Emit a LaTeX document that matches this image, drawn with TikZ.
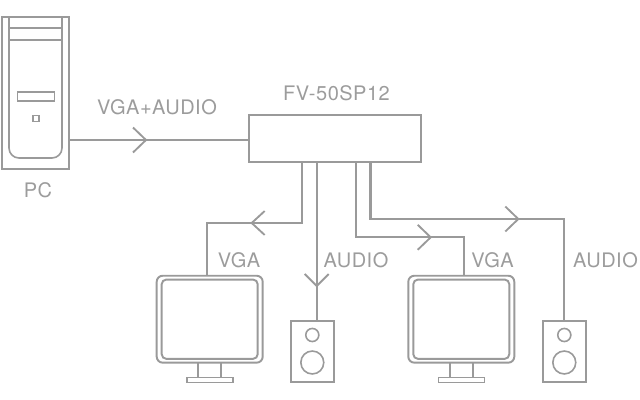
\documentclass[tikz,border=0pt]{standalone}
\usepackage{fontspec}
\setmainfont[LetterSpace=2.5]{TeX Gyre Heros}
\usetikzlibrary{arrows.meta}
\definecolor{ink}{HTML}{9A9A9A}
\definecolor{label}{HTML}{9C9C9C}
\tikzset{
  wire/.style={draw=ink,line width=1.55pt,line join=miter},
  thin wire/.style={draw=ink,line width=1.2pt},
  barb/.style={draw=ink,line width=1.4pt,line join=miter},
  box/.style={draw=ink,line width=1.45pt,inner sep=0pt,outer sep=0pt,rectangle},
  txt/.style={text=label,font=\fontsize{15}{17}\selectfont,inner sep=0pt,anchor=base},
  monitor/.pic={
    \node[box,rounded corners=4.5pt,minimum width=79.5pt,minimum height=65.2pt] (body) at (53,43.5) {};
    \node[box,rounded corners=3.5pt,minimum width=72pt,minimum height=59.5pt] (screen) at (53,43.5) {};
    \draw[thin wire] (41.5,87) -- (41.5,102.5) (64.5,87) -- (64.5,102.5);
    \node[box,line width=1.2pt,minimum width=34.5pt,minimum height=3.5pt,fill=white] (base) at (53,104.3) {};
  },
  speaker/.pic={
    \node[box,line width=1.3pt,minimum width=32pt,minimum height=45.8pt] (body) at (21.3,30.5) {};
    \node[box,circle,line width=1.2pt,minimum size=9.8pt] (tweeter) at (21.3,14) {};
    \node[box,circle,line width=1.2pt,minimum size=17.2pt] (woofer) at (21.3,41.5) {};
  }
}
\begin{document}
\begin{tikzpicture}[x=0.75pt,y=-0.75pt]
\useasboundingbox (0,0) rectangle (640,400);
% PC
\node[box,minimum width=50.3pt,minimum height=114pt] (pc) at (35.5,93) {};
\draw[wire,line width=1.2pt,rounded corners=7.5pt] (9,17) -- (9,158) -- (62,158) -- (62,17);
\coordinate (pcA) at (9,28); \coordinate (pcB) at (62,28);
\coordinate (pcC) at (9,40); \coordinate (pcD) at (62,40);
\draw[thin wire] (pcA) -- (pcB) (pcC) -- (pcD);
\node[box,line width=1.2pt,minimum width=27.5pt,minimum height=7pt] (slot) at (36,96.5) {};
\node[box,line width=1.15pt,minimum width=4.6pt,minimum height=4.2pt] (led) at (36,118.5) {};
\node[txt] (pclabel) at (38,197) {PC};
% switch
\node[box,minimum width=128.8pt,minimum height=35pt] (sw) at (335,138.5) {};
\node[txt] (swlabel) at (336.5,100) {FV-50SP12};
% devices
\pic (ma) at (156.7,275.7) {monitor};
\pic (mb) at (408.3,275.7) {monitor};
\pic (sa) at (291,321) {speaker};
\pic (sb) at (543,321) {speaker};
% connector taps
\coordinate (t1) at (302.3,161.7);
\coordinate (t2) at (316.7,161.7);
\coordinate (t3) at (356,161.7);
\coordinate (t4) at (370.5,161.7);
\coordinate (c1) at (302.3,223);
\coordinate (c3) at (356,237.3);
\coordinate (c4) at (370.5,219);
\coordinate (a0) at (146,140);
\coordinate (a1) at (251.7,223);
\coordinate (a2) at (316.7,286);
\coordinate (a3) at (430.7,237.3);
\coordinate (a4) at (518.3,219);
\coordinate (pco) at (69,140);
\coordinate (swi) at (249,140);
\coordinate (m1in) at (207.3,275.7);
\coordinate (m2in) at (463.7,275.7);
\coordinate (s1in) at (316.7,321);
\coordinate (s2in) at (564.3,321);
% connectors
\draw[wire] (pco) -- (swi);
\draw[wire] (t1) -- (c1) -| (m1in);
\draw[wire] (t2) -- (s1in);
\draw[wire] (t3) -- (c3) -| (m2in);
\draw[wire] (t4) -- (c4) -| (s2in);
% open arrowheads
\draw[barb] (a0) ++(-13,-12.5) -- (a0) -- ++(-13,12.5);
\draw[barb] (a1) ++(13,-12) -- (a1) -- ++(13,12);
\draw[barb] (a2) ++(-12,-12) -- (a2) -- ++(12,-12);
\draw[barb] (a3) ++(-13,-12.5) -- (a3) -- ++(-13,12.5);
\draw[barb] (a4) ++(-13,-12.5) -- (a4) -- ++(-13,12.5);
% labels
\node[txt] (l0) at (157,114) {VGA+AUDIO};
\node[txt] (l1) at (239,267) {VGA};
\node[txt] (l2) at (356,267) {AUDIO};
\node[txt] (l3) at (492.5,267) {VGA};
\node[txt] (l4) at (605.5,267) {AUDIO};
\end{tikzpicture}
\end{document}
